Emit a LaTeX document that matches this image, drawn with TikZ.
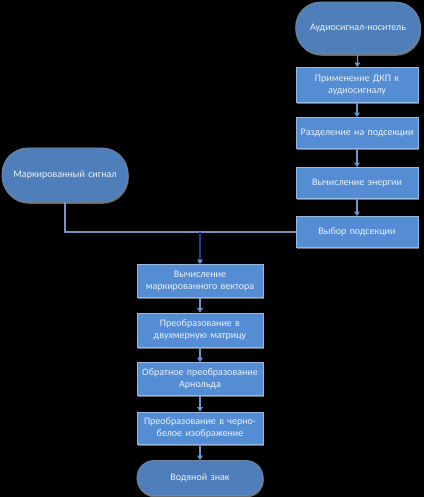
\documentclass[tikz,border=0pt]{standalone}
\usepackage{fontspec}
\setmainfont{Carlito}
\usetikzlibrary{arrows.meta, positioning, shadows, calc}
\definecolor{myblue}{RGB}{84,141,212}
\definecolor{myedge}{RGB}{150,185,225}
\definecolor{mystad}{RGB}{79,127,186}
\definecolor{mystadedge}{RGB}{115,135,165}
\definecolor{mytext}{RGB}{235,241,250}
\definecolor{myarrow}{RGB}{105,150,205}
\definecolor{myline}{RGB}{125,145,190}
\definecolor{mynavy}{RGB}{35,55,150}
\tikzset{
  block/.style={rectangle, draw=myedge, fill=myblue,
    minimum width=122pt, minimum height=32pt, text width=118pt,
    align=center, font=\fontsize{10}{12}\selectfont, text=mytext,
    line width=0.8pt, inner sep=1pt,
    drop shadow={shadow xshift=0.8pt, shadow yshift=-1.8pt, fill=gray!80, opacity=0.7}},
  terminal/.style={rectangle, draw=mystadedge, fill=mystad,
    minimum width=124pt, minimum height=52pt, text width=118pt,
    rounded corners=25pt, align=center,
    font=\fontsize{10}{12}\selectfont, text=mytext, line width=0.8pt,
    drop shadow={shadow xshift=0.8pt, shadow yshift=-1.8pt, fill=gray!60, opacity=0.6}},
  arrow/.style={-{Triangle[length=4.5pt, width=5.5pt]}, line width=1.2pt, color=myarrow},
  feedline/.style={line width=1.2pt, color=myline},
  navyarrow/.style={-{Triangle[length=4.5pt, width=5.5pt, color=myarrow]}, line width=1.4pt, color=mynavy}
}
\begin{document}
\begin{tikzpicture}[x=1pt, y=1pt]
  % Background
  \fill[black] (0,0) rectangle (424,497);
  \useasboundingbox (0,0) rectangle (424,497);

  % Carrier signal branch
  \node[terminal] (carrier) at (358,469) {Аудиосигнал-носитель};
  \node[block, minimum height=35pt] (dct) at (357,412) {Применение ДКП к\\аудиосигналу};
  \node[block, minimum height=31pt] (split) at (357,364) {Разделение на подсекции};
  \node[block, minimum height=31pt] (energy) at (357,314) {Вычисление энергии};
  \node[block, minimum height=31pt] (select) at (357,265) {Выбор подсекции};

  % Marked signal
  \node[terminal, minimum width=126pt, minimum height=54pt, rounded corners=26pt] (marked) at (65,322) {Маркированный сигнал};

  % Watermark branch
  \node[block, minimum width=126pt, minimum height=33pt] (vector) at (200,216) {Вычисление\\маркированного вектора};
  \node[block, minimum width=126pt, minimum height=34pt] (matrix) at (200,167) {Преобразование в\\двухмерную матрицу};
  \node[block, minimum width=126pt, minimum height=33pt] (arnold) at (200,118) {Обратное преобразование\\Арнольда};
  \node[block, minimum width=126pt, minimum height=32pt] (bw) at (200,69) {Преобразование в черно-\\белое изображение};
  \node[terminal, minimum width=126pt, minimum height=35pt, rounded corners=17pt] (watermark) at (200,19) {Водяной знак};

  % Connectors
  \draw[arrow] (carrier) -- (dct);
  \draw[arrow] (dct) -- (split);
  \draw[arrow] (split) -- (energy);
  \draw[arrow] (energy) -- (select);
  \coordinate (junction) at (vector.north |- select.west);
  \draw[feedline] (marked.south) |- (select.west);
  \draw[navyarrow] (junction) -- (vector.north);
  \draw[arrow] (vector) -- (matrix);
  \draw[arrow] (matrix) -- (arnold);
  \draw[arrow] (arnold) -- (bw);
  \draw[arrow] (bw) -- (watermark);
\end{tikzpicture}
\end{document}
